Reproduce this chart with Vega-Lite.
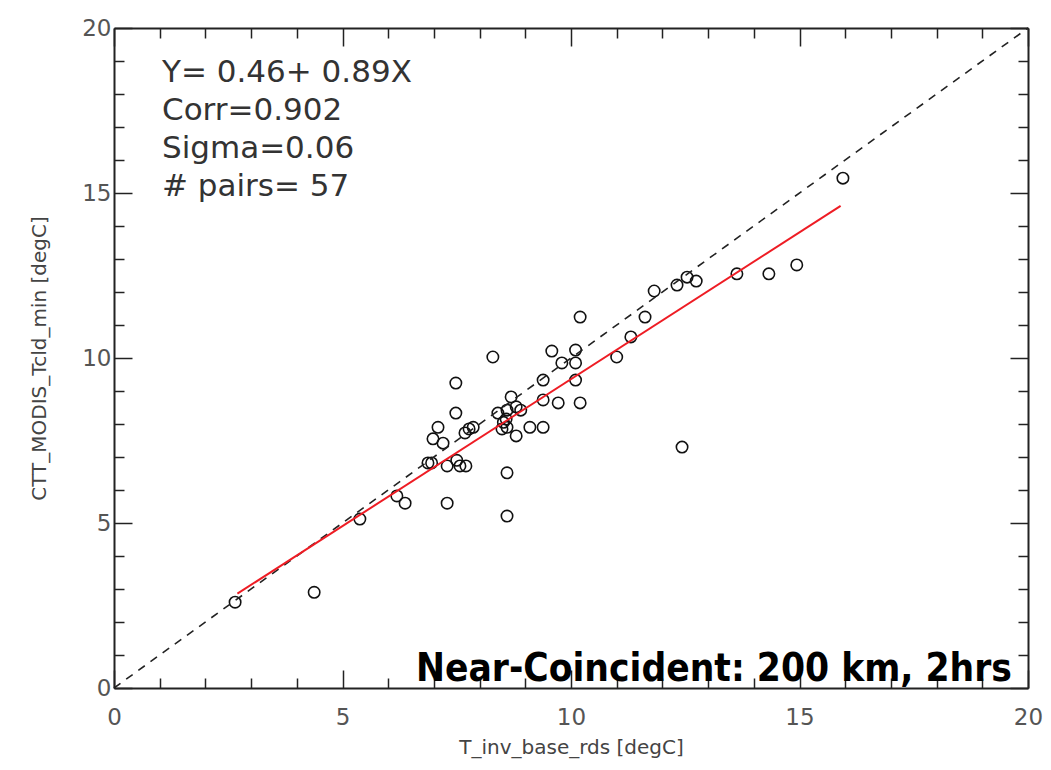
{
  "$schema": "https://vega.github.io/schema/vega-lite/v6.json",
  "width": 914,
  "height": 660,
  "autosize": {"type": "none"},
  "padding": {"left": 114, "top": 28, "right": 23, "bottom": 82},
  "background": "white",
  "config": {
    "view": {"stroke": null},
    "axis": {
      "domainColor": "#222",
      "domainWidth": 2,
      "tickColor": "#222",
      "tickWidth": 1.5,
      "grid": false,
      "labelFont": "DejaVu Sans",
      "labelFontSize": 23,
      "labelColor": "#555",
      "titleFont": "DejaVu Sans",
      "titleFontSize": 20,
      "titleFontWeight": "normal",
      "titleColor": "#444"
    }
  },
  "resolve": {"axis": {"x": "independent", "y": "independent"}},
  "layer": [
    {
      "data": {"values": [
        {"x": 2.65, "y": 2.6}, {"x": 4.38, "y": 2.9}, {"x": 5.38, "y": 5.12}, {"x": 6.19, "y": 5.82},
        {"x": 6.37, "y": 5.6}, {"x": 7.29, "y": 5.6}, {"x": 8.6, "y": 5.21}, {"x": 8.6, "y": 6.52},
        {"x": 6.87, "y": 6.82}, {"x": 6.95, "y": 6.82}, {"x": 7.29, "y": 6.73}, {"x": 7.5, "y": 6.9},
        {"x": 7.57, "y": 6.73}, {"x": 7.7, "y": 6.73}, {"x": 6.98, "y": 7.55}, {"x": 7.2, "y": 7.42},
        {"x": 7.09, "y": 7.9}, {"x": 7.68, "y": 7.73}, {"x": 7.77, "y": 7.85}, {"x": 7.86, "y": 7.9},
        {"x": 8.49, "y": 7.85}, {"x": 8.6, "y": 7.9}, {"x": 8.8, "y": 7.64}, {"x": 9.1, "y": 7.9},
        {"x": 9.39, "y": 7.9}, {"x": 7.48, "y": 8.33}, {"x": 8.4, "y": 8.33}, {"x": 8.6, "y": 8.42},
        {"x": 8.58, "y": 8.15}, {"x": 8.9, "y": 8.42}, {"x": 8.8, "y": 8.52}, {"x": 8.69, "y": 8.82},
        {"x": 9.39, "y": 8.73}, {"x": 9.72, "y": 8.64}, {"x": 10.2, "y": 8.64}, {"x": 7.48, "y": 9.24},
        {"x": 9.39, "y": 9.33}, {"x": 10.1, "y": 9.33}, {"x": 9.8, "y": 9.85}, {"x": 10.1, "y": 9.85},
        {"x": 9.58, "y": 10.21}, {"x": 10.1, "y": 10.24}, {"x": 8.29, "y": 10.03}, {"x": 11.0, "y": 10.03},
        {"x": 11.31, "y": 10.64}, {"x": 10.2, "y": 11.24}, {"x": 11.62, "y": 11.24}, {"x": 11.82, "y": 12.03},
        {"x": 12.32, "y": 12.21}, {"x": 12.54, "y": 12.45}, {"x": 12.74, "y": 12.33}, {"x": 13.63, "y": 12.55},
        {"x": 14.33, "y": 12.55}, {"x": 14.94, "y": 12.82}, {"x": 15.95, "y": 15.45}, {"x": 12.43, "y": 7.3},
        {"x": 8.52, "y": 8.05}
      ]},
      "mark": {"type": "point", "shape": "circle", "filled": false, "size": 130, "stroke": "#111", "strokeWidth": 1.6, "opacity": 1},
      "encoding": {
        "x": {"field": "x", "type": "quantitative", "scale": {"domain": [0, 20], "nice": false},
          "axis": {"orient": "bottom", "title": "T_inv_base_rds [degC]", "titlePadding": 8,
            "values": [0,1,2,3,4,5,6,7,8,9,10,11,12,13,14,15,16,17,18,19,20],
            "labelExpr": "datum.value % 5 === 0 ? datum.label : ''",
            "tickSize": {"condition": {"test": "datum.value % 5 === 0", "value": -18}, "value": -10},
            "labelPadding": 36, "labelFlush": false}},
        "y": {"field": "y", "type": "quantitative", "scale": {"domain": [0, 20], "nice": false},
          "axis": {"orient": "left", "title": "CTT_MODIS_Tcld_min [degC]", "titlePadding": 32,
            "values": [0,1,2,3,4,5,6,7,8,9,10,11,12,13,14,15,16,17,18,19,20],
            "labelExpr": "datum.value % 5 === 0 ? datum.label : ''",
            "tickSize": {"condition": {"test": "datum.value % 5 === 0", "value": -18}, "value": -10},
            "labelPadding": 21, "labelFlush": false}}
      }
    },
    {
      "data": {"values": [{"x": 0, "y": 0}, {"x": 20, "y": 20}]},
      "mark": {"type": "line", "stroke": "#222", "strokeWidth": 1.6, "strokeDash": [8, 7]},
      "encoding": {
        "x": {"field": "x", "type": "quantitative", "scale": {"domain": [0, 20], "nice": false},
          "axis": {"orient": "top", "title": null, "labels": false,
            "values": [0,1,2,3,4,5,6,7,8,9,10,11,12,13,14,15,16,17,18,19,20],
            "tickSize": {"condition": {"test": "datum.value % 5 === 0", "value": -18}, "value": -10}}},
        "y": {"field": "y", "type": "quantitative", "scale": {"domain": [0, 20], "nice": false},
          "axis": {"orient": "right", "title": null, "labels": false,
            "values": [0,1,2,3,4,5,6,7,8,9,10,11,12,13,14,15,16,17,18,19,20],
            "tickSize": {"condition": {"test": "datum.value % 5 === 0", "value": -18}, "value": -10}}}
      }
    },
    {
      "data": {"values": [{"x": 2.7, "y": 2.86}, {"x": 15.9, "y": 14.61}]},
      "mark": {"type": "line", "stroke": "#ee1c24", "strokeWidth": 2},
      "encoding": {
        "x": {"field": "x", "type": "quantitative", "scale": {"domain": [0, 20], "nice": false}, "axis": null},
        "y": {"field": "y", "type": "quantitative", "scale": {"domain": [0, 20], "nice": false}, "axis": null}
      }
    },
    {
      "data": {"values": [{"t": 1}]},
      "mark": {"type": "text", "align": "left", "baseline": "top", "font": "DejaVu Sans", "fontSize": 31, "color": "#333", "lineHeight": 38,
        "text": ["Y= 0.46+ 0.89X", "Corr=0.902", "Sigma=0.06", "# pairs= 57"]},
      "encoding": {
        "x": {"datum": 1.05, "type": "quantitative", "scale": {"domain": [0, 20], "nice": false}, "axis": null},
        "y": {"datum": 19.1, "type": "quantitative", "scale": {"domain": [0, 20], "nice": false}, "axis": null}
      }
    },
    {
      "data": {"values": [{"t": 1}]},
      "mark": {"type": "text", "align": "right", "baseline": "alphabetic", "font": "DejaVu Sans Condensed, Roboto Condensed, Roboto, sans-serif", "fontWeight": "bold", "fontSize": 38.5, "color": "#000",
        "text": "Near-Coincident: 200 km, 2hrs"},
      "encoding": {
        "x": {"datum": 19.65, "type": "quantitative", "scale": {"domain": [0, 20], "nice": false}, "axis": null},
        "y": {"datum": 0.22, "type": "quantitative", "scale": {"domain": [0, 20], "nice": false}, "axis": null}
      }
    }
  ]
}
